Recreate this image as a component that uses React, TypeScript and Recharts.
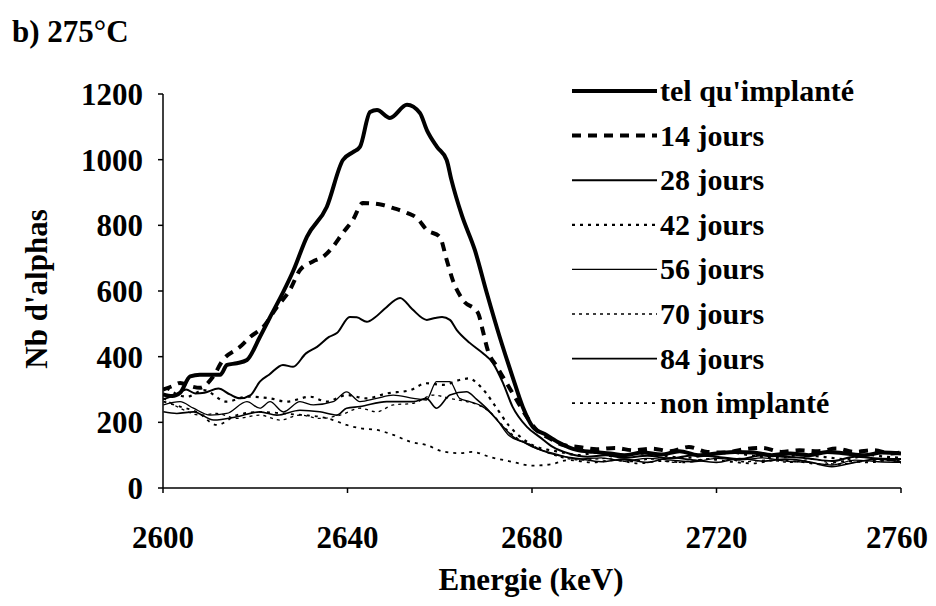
import React from 'react';
import { LineChart, Line, XAxis, YAxis, Legend } from 'recharts';

const FONT = 'Liberation Serif';

// energy (keV), counts
const telQuImplante: [number, number][] = [
  [2600, 285], [2602, 280], [2603.7, 290], [2605.9, 340], [2608, 345], [2612.4, 345],
  [2613.9, 375], [2616, 380], [2618.2, 390], [2621, 460], [2623.2, 520], [2626, 595],
  [2628.2, 660], [2631.2, 765], [2635.5, 856], [2639, 999], [2641.2, 1023], [2642.7, 1039],
  [2644.9, 1145], [2646.4, 1151], [2649.2, 1127], [2652.9, 1167], [2655.7, 1142],
  [2657.2, 1090], [2659.4, 1039], [2661.5, 999], [2662.5, 940], [2664.8, 830], [2667.6, 725],
  [2670.2, 594], [2673, 460], [2675.8, 338], [2678, 247], [2680.2, 186], [2683.2, 161],
  [2686, 137], [2689.7, 116], [2693.2, 110], [2697, 105], [2700, 100], [2704, 108],
  [2708, 102], [2712, 112], [2716, 100], [2720, 105], [2724, 110], [2728, 108], [2732, 100],
  [2736, 105], [2740, 100], [2744, 110], [2748, 105], [2752, 100], [2756, 108], [2760, 105],
];

const jours14: [number, number][] = [
  [2600, 300], [2602, 310], [2603.7, 320], [2606, 310], [2608, 305], [2610.8, 338],
  [2613, 390], [2616.7, 430], [2618.9, 460], [2621.7, 490], [2624.7, 551], [2627.5, 603],
  [2629.7, 664], [2632.5, 690], [2634.7, 704], [2636.8, 734], [2639, 777], [2641.2, 817],
  [2643.3, 868], [2647.7, 862], [2649.8, 853], [2652.9, 838], [2655, 823], [2657.2, 786],
  [2660, 765], [2661.5, 695], [2662.8, 634], [2665, 573], [2668.3, 533], [2669.3, 481],
  [2670.4, 420], [2672.4, 369], [2673.7, 338], [2676.3, 277], [2678.9, 216], [2681, 177],
  [2684, 150], [2687, 130], [2690, 125], [2694, 118], [2698, 122], [2702, 115], [2706, 120],
  [2710, 112], [2714, 125], [2718, 110], [2722, 108], [2726, 118], [2730, 122], [2734, 110],
  [2738, 115], [2742, 112], [2746, 120], [2750, 110], [2754, 115], [2758, 105], [2760, 108],
];

const jours28: [number, number][] = [
  [2600, 270], [2603, 285], [2605, 300], [2607, 288], [2609, 290], [2612, 303],
  [2614.5, 285], [2616.7, 273], [2619, 283], [2621, 324], [2623, 345], [2626, 375],
  [2628.2, 369], [2631, 410], [2633.4, 430], [2636, 460], [2637.7, 472], [2640.5, 521],
  [2642, 520], [2644.2, 506], [2646, 520], [2648, 545], [2651.4, 579], [2654, 545],
  [2657.2, 512], [2659, 518], [2660.5, 521], [2662.2, 512], [2663.7, 481], [2666.5, 442],
  [2669.3, 411], [2671.5, 381], [2673.7, 320], [2675.8, 247], [2678.9, 186], [2681.7, 155],
  [2684.5, 125], [2688, 105], [2692, 95], [2696, 100], [2700, 92], [2705, 98], [2710, 90],
  [2715, 100], [2720, 95], [2725, 88], [2730, 100], [2735, 95], [2740, 90], [2745, 82],
  [2750, 95], [2755, 90], [2760, 88],
];

const jours42: [number, number][] = [
  [2600.8, 303], [2605.2, 278], [2608.8, 298], [2613.8, 263], [2618.2, 278], [2623.2, 273],
  [2626.8, 263], [2631.9, 278], [2635.5, 263], [2639.8, 283], [2644.1, 273], [2648.5, 288],
  [2653.6, 298], [2657.1, 319], [2660.7, 314], [2664.3, 329], [2666.5, 334], [2668, 320],
  [2670, 290], [2672, 250], [2675, 190], [2678, 150], [2681, 125], [2684, 115], [2686, 110],
  [2690, 100], [2694, 108], [2698, 95], [2703, 105], [2708, 100], [2713, 92], [2718, 100],
  [2723, 108], [2728, 98], [2733, 92], [2738, 100], [2743, 95], [2748, 88], [2753, 100],
  [2757, 95], [2760, 92],
];

const jours56: [number, number][] = [
  [2600.1, 253], [2603.7, 263], [2606.6, 243], [2610.2, 222], [2613.8, 227], [2618.2, 263],
  [2621, 243], [2623.2, 263], [2626.1, 232], [2629.7, 263], [2632.6, 253], [2636.9, 263],
  [2639.8, 293], [2642.7, 263], [2646.3, 273], [2649.9, 283], [2654.3, 273], [2657.1, 268],
  [2659.3, 324], [2662.2, 324], [2664.3, 273], [2666.5, 263], [2669, 250], [2672, 215],
  [2675, 160], [2678, 140], [2681, 120], [2684, 108], [2686, 100], [2690, 88], [2695, 92],
  [2700, 82], [2705, 90], [2710, 85], [2715, 80], [2720, 90], [2725, 85], [2730, 92],
  [2735, 82], [2740, 78], [2745, 70], [2750, 85], [2755, 80], [2760, 78],
];

const jours70: [number, number][] = [
  [2600.1, 273], [2603.7, 243], [2608, 222], [2611.7, 227], [2616, 212], [2621, 222],
  [2625.4, 207], [2629.7, 222], [2634, 212], [2638.4, 222], [2642.7, 243], [2646.3, 232],
  [2649.9, 253], [2654.3, 258], [2658.6, 283], [2662.2, 273], [2665.8, 263], [2668, 255],
  [2671, 230], [2674, 185], [2677, 150], [2680, 130], [2683, 110], [2686, 95], [2691, 85],
  [2696, 90], [2701, 80], [2706, 88], [2711, 78], [2716, 85], [2721, 92], [2726, 80],
  [2731, 85], [2736, 78], [2741, 88], [2746, 72], [2751, 80], [2756, 85], [2760, 75],
];

const jours84: [number, number][] = [
  [2600.1, 232], [2603, 227], [2606.6, 232], [2611, 207], [2616, 217], [2621, 232],
  [2624.7, 222], [2629.7, 237], [2634, 232], [2637.7, 222], [2639.8, 243], [2642.7, 248],
  [2648.5, 263], [2654.3, 263], [2657.1, 273], [2659.3, 243], [2662.2, 283], [2665.8, 293],
  [2668, 270], [2670, 245], [2673, 198], [2676, 155], [2679, 135], [2682, 115], [2686, 98],
  [2690, 90], [2695, 80], [2700, 88], [2705, 78], [2710, 92], [2715, 85], [2720, 78],
  [2725, 90], [2730, 82], [2735, 88], [2740, 80], [2745, 65], [2750, 78], [2755, 88],
  [2760, 80],
];

const nonImplante: [number, number][] = [
  [2600.1, 263], [2603.7, 248], [2607.3, 232], [2611.7, 192], [2616, 222], [2621, 232],
  [2626.1, 227], [2630.4, 222], [2634, 217], [2636.9, 207], [2639.8, 192], [2642.7, 182],
  [2646.3, 177], [2649.9, 162], [2653.6, 141], [2657.1, 131], [2660.7, 111], [2664.3, 106],
  [2667, 110], [2671, 94], [2676, 79], [2680, 68], [2684, 72], [2688, 85], [2693, 78],
  [2698, 85], [2703, 75], [2708, 82], [2713, 78], [2718, 88], [2723, 80], [2728, 75],
  [2733, 85], [2738, 80], [2743, 72], [2748, 82], [2753, 78], [2758, 85], [2760, 80],
];

const xTicks = [2600, 2640, 2680, 2720, 2760];
const yTicks = [0, 200, 400, 600, 800, 1000, 1200];

const series = [
  { name: "tel qu'implanté", points: telQuImplante, width: 4, dash: undefined },
  { name: '14 jours', points: jours14, width: 4, dash: '9 7' },
  { name: '28 jours', points: jours28, width: 2, dash: undefined },
  { name: '42 jours', points: jours42, width: 2.2, dash: '3 5' },
  { name: '56 jours', points: jours56, width: 1.3, dash: undefined },
  { name: '70 jours', points: jours70, width: 1.3, dash: '3 4' },
  { name: '84 jours', points: jours84, width: 1.6, dash: undefined },
  { name: 'non implanté', points: nonImplante, width: 1.8, dash: '3 5' },
];

const tickStyle = { fill: '#000', fontSize: 31, fontWeight: 'bold', fontFamily: FONT };

function LegendBox() {
  return (
    <svg width={340} height={370}>
      {series.map((s, i) => {
        const y = 22 + i * 44.6;
        return (
          <g key={s.name}>
            <line x1={4} x2={89} y1={y} y2={y} stroke="#000" strokeWidth={s.width} strokeDasharray={s.dash} />
            <text x={92} y={y + 10} fontSize={30} fontWeight="bold" fontFamily={FONT} fill="#000">
              {s.name}
            </text>
          </g>
        );
      })}
    </svg>
  );
}

export default function App() {
  return (
    <div style={{ position: 'relative', width: 920, height: 590, background: '#fff', fontFamily: FONT }}>
      <div
        style={{
          position: 'absolute', left: 4, top: 9, fontSize: 31, lineHeight: '30px',
          fontWeight: 'bold', color: '#000', fontFamily: FONT,
        }}
      >
        b) 275°C
      </div>
      <LineChart width={920} height={590} margin={{ top: 86, right: 27, left: 75, bottom: 50 }}>
        <XAxis
          type="number"
          dataKey="e"
          domain={[2600, 2760]}
          ticks={xTicks}
          allowDataOverflow
          height={60}
          tickSize={5}
          tickMargin={33}
          stroke="#000"
          axisLine={{ stroke: '#000', strokeWidth: 1.5 }}
          tickLine={{ stroke: '#000', strokeWidth: 1.5 }}
          tick={tickStyle}
          label={() => (
            <text x={523} y={582} textAnchor="middle" fontSize={31} fontWeight="bold" fontFamily={FONT} fill="#000">
              Energie (keV)
            </text>
          )}
        />
        <YAxis
          type="number"
          domain={[0, 1200]}
          ticks={yTicks}
          width={80}
          tickSize={5}
          tickMargin={15}
          stroke="#000"
          axisLine={{ stroke: '#000', strokeWidth: 1.5 }}
          tickLine={{ stroke: '#000', strokeWidth: 1.5 }}
          tick={tickStyle}
          label={() => (
            <text
              x={39}
              y={281}
              transform="rotate(-90 39 281)"
              textAnchor="middle"
              fontSize={31}
              fontWeight="bold"
              fontFamily={FONT}
              fill="#000"
            >
              Nb d'alphas
            </text>
          )}
        />
        <Legend
          layout="vertical"
          align="center"
          verticalAlign="middle"
          wrapperStyle={{ left: 560, top: 61, width: 340, height: 370 }}
          content={() => <LegendBox />}
        />
        {series.map((s) => (
          <Line
            key={s.name}
            name={s.name}
            data={s.points.map(([e, n]) => ({ e, n }))}
            dataKey="n"
            type="monotone"
            stroke="#000"
            strokeWidth={s.width}
            strokeDasharray={s.dash}
            dot={false}
            activeDot={false}
            isAnimationActive={false}
          />
        ))}
      </LineChart>
    </div>
  );
}
